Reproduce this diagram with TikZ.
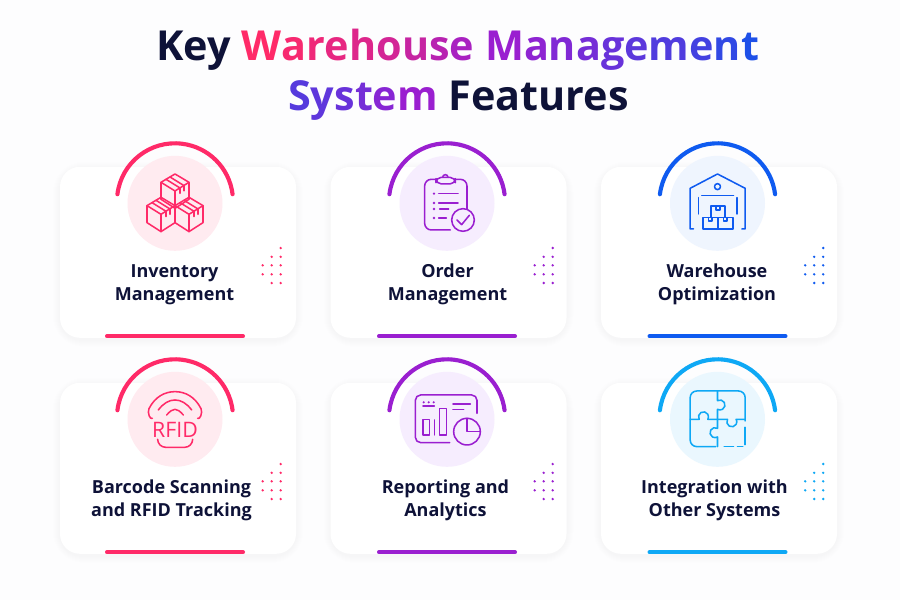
\documentclass[tikz,border=0pt]{standalone}
\usepackage{fontspec}
\setmainfont{Open Sans}
\definecolor{ink}{HTML}{0E1238}
\definecolor{pk}{HTML}{FF2A68}
\definecolor{pu}{HTML}{9A1FD0}
\definecolor{bl}{HTML}{0F5BF0}
\definecolor{cy}{HTML}{0EA8F5}
\definecolor{pkt}{HTML}{FFEBF0}
\definecolor{put}{HTML}{F6EDFE}
\definecolor{blt}{HTML}{EFF5FE}
\definecolor{cyt}{HTML}{EAF7FE}
\definecolor{tbl}{HTML}{1E50E8}
\definecolor{paper}{HTML}{FDFDFE}
\colorlet{main}{pk}
\colorlet{tint}{pkt}
\newcommand{\glA}[2]{\textcolor{pk!#1!pu}{#2}}
\newcommand{\glB}[2]{\textcolor{pu!#1!tbl}{#2}}
\tikzset{
  x=.75pt,y=.75pt,
  icon/.style={x=.25pt,y=.25pt,draw=main,line width=1.15pt,line cap=round,line join=round},
  label/.style={text=ink,font=\fontsize{13.5pt}{17pt}\selectfont\bfseries,align=center,anchor=base},
  titleline/.style={text=ink,font=\fontsize{31pt}{40pt}\selectfont\bfseries,anchor=base,inner sep=0pt}
}
\newcommand{\cubeicon}[2]{%
  \begin{scope}[shift={(#1,#2)}]
    \draw (0,51)--(42,26)--(42,-25)--(0,-52)--(-42,-25)--(-42,26)--cycle;
    \draw (-42,26)--(0,0)--(42,26) (0,0)--(0,-52);
    \draw (-27,35)--(15,9)--(15,-7) (-15,42)--(27,16)--(27,0);
  \end{scope}}
\newcommand{\iconboxes}{%
  \cubeicon{0}{37}\cubeicon{-42}{-33}\cubeicon{42}{-33}}
\newcommand{\iconclip}{%
  \draw[rounded corners=5] (60,-25)--(60,72)--(-67,72)--(-67,-80)--(10,-80);
  \draw[fill=tint,rounded corners=4] (-33,58) rectangle (25,78);
  \draw (-13,78) arc[start angle=180,end angle=0,radius=8];
  \foreach \y in {29,1,-17,-44}{\fill[main] (-39,\y) circle[radius=4];}
  \draw (-25,29)--(33,29) (-25,1)--(33,1) (-22,-17)--(5,-17) (-25,-44)--(-2,-44);
  \draw[fill=tint] (48,-50) circle[radius=34];
  \draw (30,-50)--(44,-64)--(67,-36);}
\newcommand{\iconhouse}{%
  \draw (-72,-77)--(-82,-77)--(-82,45)--(0,88)--(83,45)--(83,-77)--(73,-77);
  \draw (0,50) circle[radius=9];
  \draw (-47,23)--(48,23) (-57,17)--(-57,-32) (58,17)--(58,-32);
  \draw (-20,-43) rectangle (23,-8) (-44,-77) rectangle (1,-43) (1,-77) rectangle (46,-43);
  \draw (-4,-8)--(-4,-20)--(7,-20)--(7,-8);
  \draw (-27,-43)--(-27,-53)--(-17,-53)--(-17,-43);
  \draw (18,-43)--(18,-53)--(28,-53)--(28,-43);}
\newcommand{\iconrfid}{%
  \draw (-68,3) .. controls (-74,-3) and (-84,20) .. (-78,32) .. controls (-60,68) and (-30,83) .. (0,83) .. controls (30,83) and (60,68) .. (78,32) .. controls (84,20) and (74,-3) .. (68,3);
  \draw (-50,28) .. controls (-35,48) and (-18,58) .. (0,58) .. controls (18,58) and (35,48) .. (50,28);
  \draw (-25,13) .. controls (-15,24) and (-8,30) .. (0,30) .. controls (8,30) and (15,24) .. (25,13);
  \node[inner sep=0pt,text=main,font=\fontsize{16pt}{17pt}\selectfont] (rfidtext) at (0,-32) {RFID};
  \draw[rounded corners=6] (-52,-62)--(-52,-84)--(53,-84)--(53,-62);}
\newcommand{\iconreport}{%
  \draw[rounded corners=4] (90,18)--(90,73)--(-95,73)--(-95,-70)--(8,-70);
  \foreach \x in {-70,-55,-40}{\fill[main] (\x,51) circle[radius=3.5];}
  \draw (-72,40)--(-38,40) (18,46)--(70,46) (18,30)--(50,30);
  \draw (-72,-47) rectangle (-52,0) (-22,-47) rectangle (-2,33) (-37,-47)--(-37,-2);
  \draw (60,-37) circle[radius=40];
  \draw (60,3)--(60,-37)--(100,-37);}
\newcommand{\iconpuzzle}{%
  \draw[rounded corners=5] (83,-5)--(83,85)--(-82,85)--(-82,-82)--(-5,-82);
  \draw (0,85)--(0,56) arc[start angle=120,end angle=-120,radius=15]--(0,0);
  \draw (-82,0)--(-55,0) arc[start angle=-150,end angle=-390,radius=15]--(0,0);
  \draw (0,0)--(30,0) arc[start angle=150,end angle=390,radius=15]--(83,0);
  \draw (0,0)--(0,-27) arc[start angle=60,end angle=300,radius=15]--(0,-82);
  \draw (20,-82)--(48,-82) (60,-82)--(76,-82) (83,-24)--(83,-76);}
% #1 cx, #2 cy, #3 card centre x, #4 main, #5 tint, #6 icon, #7 label, #8 name, #9 label x offset
\newcommand{\cardx}[9]{%
  \begin{scope}[shift={(#1,-#2)}]
    \colorlet{main}{#4}\colorlet{tint}{#5}
    \pgfmathsetmacro{\cxl}{#3-#1-118}
    \pgfmathsetmacro{\cxr}{#3-#1+118}
    \foreach \s in {1,...,7}{
      \fill[black!60!blue,opacity=.004,rounded corners=16+\s] (\cxl-\s,-134.5-\s-2) rectangle (\cxr+\s,36.5+\s-2);}
    \fill[white,rounded corners=15] (\cxl,-134.5) rectangle (\cxr,36.5);
    \draw[main,line width=3pt,line cap=round] (-68,-133)--(68,-133);
    \fill[tint] (0,0) circle[radius=47.5];
    \draw[main,line width=3.1pt,line cap=round] (173:58)++(0,2) arc[start angle=173,end angle=7,radius=58];
    \begin{scope}[icon]#6\end{scope}
    \node[label] (#8) at (#9,-97.2) {#7};
    \foreach \x/\y in {87.7/-62,87.7/-71,96.7/-53.5,96.7/-62,96.7/-71,96.7/-79.7,105.7/-44.7,105.7/-53.5,105.7/-62,105.7/-71,105.7/-79.7}{
      \fill[main] (\x,\y) circle[radius=1.3];}
  \end{scope}}
\begin{document}
\begin{tikzpicture}
\useasboundingbox (0,0) rectangle (900,-600);
\fill[paper] (0,0) rectangle (900,-600);
\node[titleline] (t1) at (457.5,-60) {Key \glA{100}{W}\glA{92}{a}\glA{84}{r}\glA{76}{e}\glA{66}{h}\glA{56}{o}\glA{44}{u}\glA{30}{s}\glA{15}{e} \glB{100}{M}\glB{90}{a}\glB{80}{n}\glB{70}{a}\glB{60}{g}\glB{50}{e}\glB{40}{m}\glB{30}{e}\glB{15}{n}\glB{0}{t}};
\node[titleline] (t2) at (458.5,-110) {\glB{45}{S}\glB{52}{y}\glB{60}{s}\glB{70}{t}\glB{85}{e}\glB{100}{m} Features};
\cardx{175}{203.3}{178}{pk}{pkt}{\iconboxes}{Inventory\\Management}{c1}{-0.5}
\cardx{447}{203.3}{448.5}{pu}{put}{\iconclip}{Order\\Management}{c2}{0.5}
\cardx{717.5}{203.3}{719}{bl}{blt}{\iconhouse}{Warehouse\\Optimization}{c3}{-0.5}
\cardx{175}{419.3}{178}{pk}{pkt}{\iconrfid}{Barcode Scanning\\and RFID Tracking}{c4}{-3.5}
\cardx{447}{419.3}{448.5}{pu}{put}{\iconreport}{Reporting and\\Analytics}{c5}{-1.5}
\cardx{717.5}{419.3}{719}{cy}{cyt}{\iconpuzzle}{Integration with\\Other Systems}{c6}{-3}
\end{tikzpicture}
\end{document}
